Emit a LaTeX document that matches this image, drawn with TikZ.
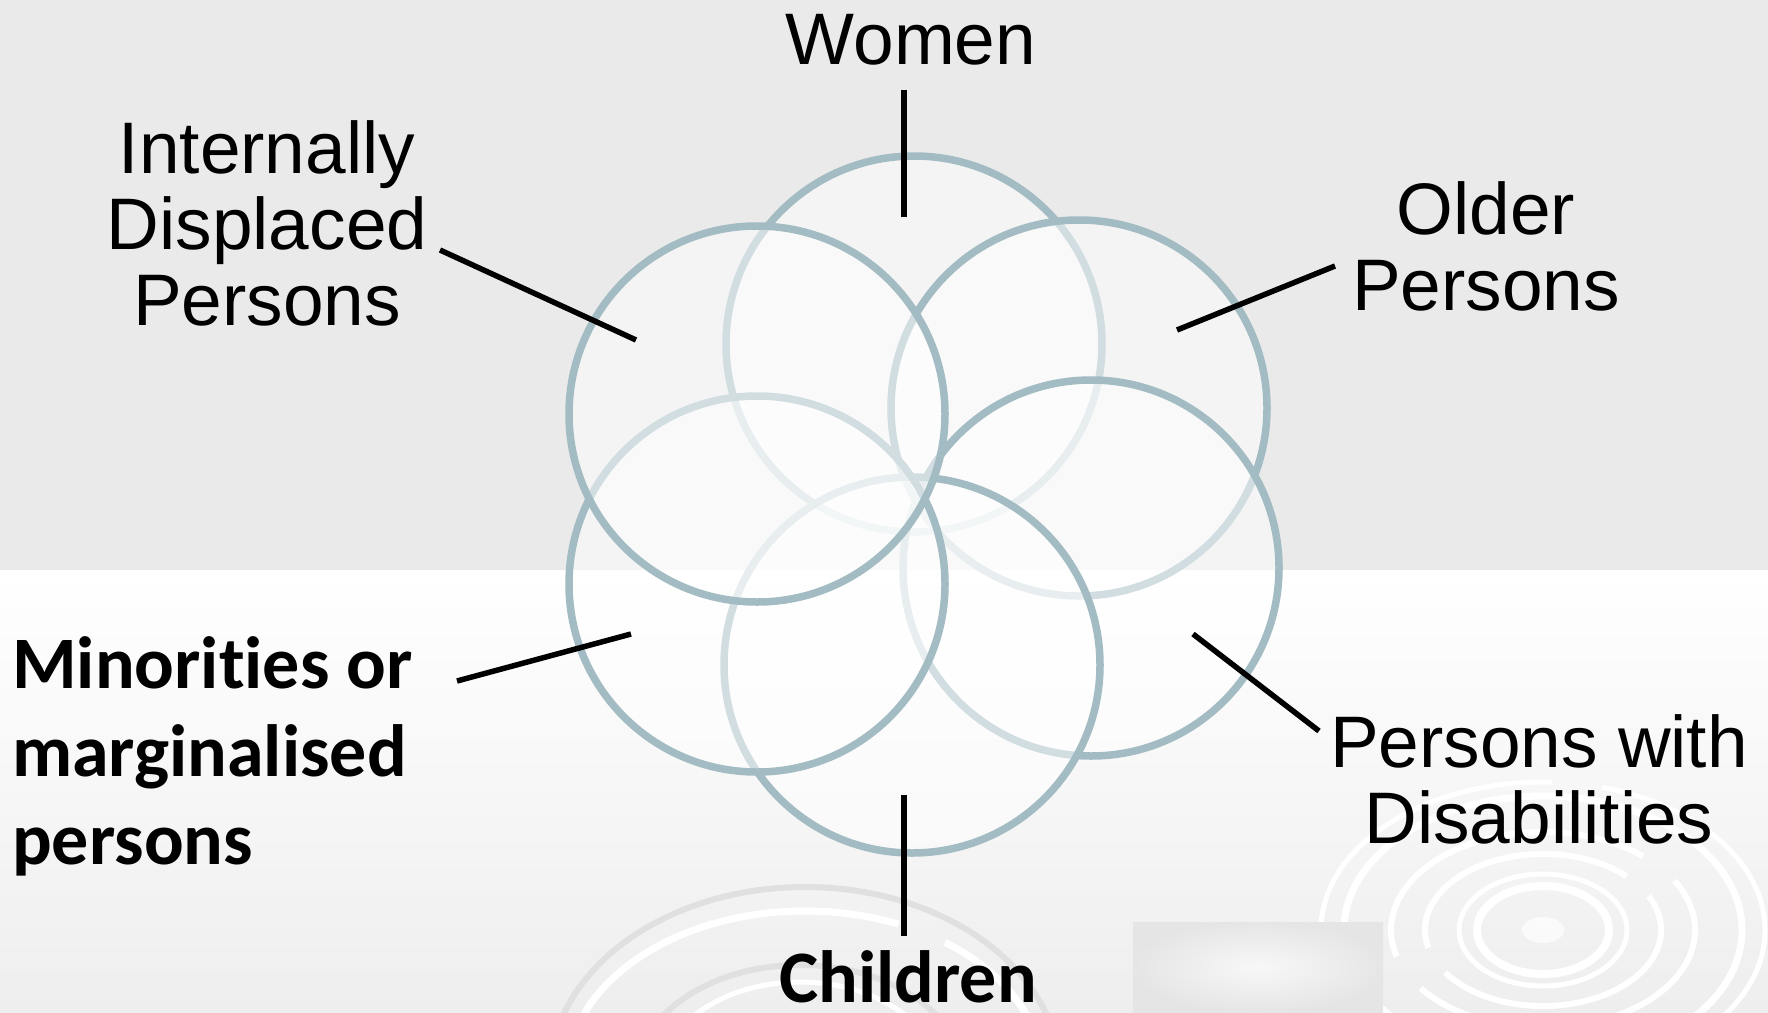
\documentclass[tikz,border=0pt]{standalone}
\usepackage{fontspec}
\setmainfont{Liberation Sans}
\newfontfamily\calibri{Carlito}[Ligatures=NoCommon]
\definecolor{bggray}{HTML}{EAEAEA}
\definecolor{ringcol}{HTML}{A3BCC4}
\definecolor{lowgray}{HTML}{EEEEEE}
\definecolor{swirlgray}{HTML}{E0E0E0}
\begin{document}
\begin{tikzpicture}[x=1pt,y=-1pt,
  petal/.style={circle, draw=ringcol, line width=7.5pt, fill=white, fill opacity=0.5, inner sep=0pt, minimum size=376pt},
  lead/.style={line width=5.5pt, black},
  lab/.style={font=\fontsize{73}{76}\selectfont, inner sep=0pt, align=center},
  blab/.style={font=\calibri\bfseries\fontsize{74}{88}\selectfont, inner sep=0pt, align=left},
  deco/.style={white, line width=6pt},
  decogray/.style={swirlgray, line width=6pt}]
\useasboundingbox (0,0) rectangle (1768,1012);
% background
\fill[bggray] (0,0) rectangle (1768,570);
\shade[top color=white, bottom color=lowgray] (0,570) rectangle (1768,1012);
% lower-right rings
\fill[white, opacity=0.7] (1543,930) ellipse [x radius=21, y radius=13];
\draw[deco, line width=8pt] (1543,930) ellipse [x radius=66, y radius=44];
\draw[deco, line width=5pt] (1543,930) ellipse [x radius=84, y radius=56];
\draw[deco, line width=6pt, dash pattern=on 260pt off 30pt] (1543,930) ellipse [x radius=118, y radius=76];
\draw[deco, line width=6pt, dash pattern=on 330pt off 40pt] (1543,930) ellipse [x radius=152, y radius=98];
\draw[deco, line width=7pt] (1543,930) ellipse [x radius=199, y radius=134];
\draw[deco, line width=5pt, dash pattern=on 420pt off 50pt] (1543,930) ellipse [x radius=222, y radius=148];
% bottom swirl
\draw[decogray, dash pattern=on 700pt off 60pt] (805,1075) ellipse [x radius=255, y radius=188];
\draw[deco, line width=7pt, dash pattern=on 500pt off 50pt] (805,1075) ellipse [x radius=238, y radius=164];
\draw[decogray, line width=6pt] (800,1080) ellipse [x radius=165, y radius=115];
\draw[deco, line width=5pt] (800,1080) ellipse [x radius=140, y radius=98];
\draw[deco, line width=4pt] (800,1085) ellipse [x radius=105, y radius=70];
% faint box
\shade[inner color=white!97!black, outer color=white!90!black] (1133,922) rectangle (1383,1012);
% petals (drawing order matters)
\node[petal] (women) at (914,344) {};
\node[petal] (older) at (1079,408) {};
\node[petal] (disab) at (1091,568) {};
\node[petal] (child) at (912,665) {};
\node[petal] (minor) at (757,584) {};
\node[petal] (idp)   at (757,414) {};
% leader lines
\coordinate (wA) at (904,90);   \coordinate (wB) at (904,217);
\coordinate (iA) at (440,250);  \coordinate (iB) at (636,340);
\coordinate (oA) at (1335,266); \coordinate (oB) at (1177,330);
\coordinate (dA) at (1193,634); \coordinate (dB) at (1319,731);
\coordinate (mA) at (457,681);  \coordinate (mB) at (631,634);
\coordinate (cA) at (904,795);  \coordinate (cB) at (904,936);
\draw[lead] (wA) -- (wB);
\draw[lead] (iA) -- (iB);
\draw[lead] (oA) -- (oB);
\draw[lead] (dA) -- (dB);
\draw[lead] (mA) -- (mB);
\draw[lead] (cA) -- (cB);
% labels (anchor base = baseline of last line)
\node[lab, anchor=base] (tWomen) at (911,64) {Women};
\node[lab, anchor=base] (tIDP) at (267,325) {Internally\\Displaced\\Persons};
\node[lab, anchor=base] (tOlder) at (1486,310) {Older\\Persons};
\node[lab, anchor=base] (tDisab) at (1539,843) {Persons with\\Disabilities};
\node[blab, anchor=base west] (tMinor) at (12,864) {Minorities or\\marginalised\\persons};
\node[blab, anchor=base] (tChild) at (908,1002) {Children};
\end{tikzpicture}
\end{document}
